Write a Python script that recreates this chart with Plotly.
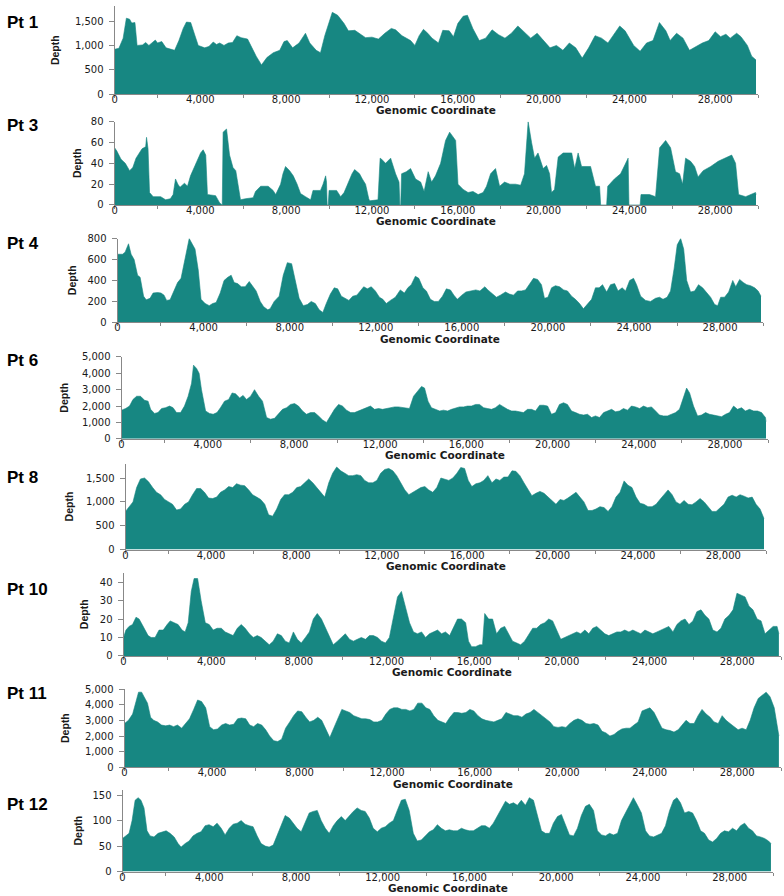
import plotly.graph_objects as go

# ---------------- data (genomic position in bp, read depth) ----------------
PANEL_NAMES = ["Pt 1", "Pt 3", "Pt 4", "Pt 6", "Pt 8", "Pt 10", "Pt 11", "Pt 12"]

X_TICKS = [0, 4000, 8000, 12000, 16000, 20000, 24000, 28000]
X_TICK_TEXT = ["0", "4,000", "8,000", "12,000", "16,000", "20,000", "24,000", "28,000"]

PT1_POS = [
    0, 200, 400, 550, 700, 800, 950, 1050, 1300, 1450,
    1600, 1800, 1900, 2000, 2200, 2400, 2600, 2800, 3000, 3200,
    3350, 3550, 3750, 3900, 4200, 4400, 4600, 4750, 4900, 5100,
    5300, 5500, 5700, 5900, 6200, 6400, 6600, 6850, 7100, 7400,
    7700, 7900, 8050, 8300, 8600, 8900, 9100, 9400, 9600, 9800,
    10000, 10150, 10400, 10700, 10900, 11200, 11500, 11700, 12000, 12300,
    12600, 12900, 13100, 13400, 13800, 14000, 14200, 14400, 14600, 14800,
    15100, 15300, 15600, 15800, 16000, 16250, 16450, 16700, 17000, 17300,
    17600, 17900, 18200, 18500, 18800, 19100, 19400, 19700, 20000, 20300,
    20600, 20900, 21200, 21500, 21800, 22100, 22400, 22700, 23000, 23300,
    23550, 23800, 24200, 24500, 24800, 25100, 25400, 25700, 25900, 26200,
    26500, 26800, 27100, 27400, 27700, 28000, 28250, 28500, 28700, 29000,
    29200, 29500, 29700, 29903]
PT1_DEPTH = [
    920, 940, 1150, 1560, 1540, 1460, 1470, 1000, 1010, 1060,
    1000, 1070, 1110, 1050, 1080, 950, 920, 900, 1100, 1350,
    1480, 1470, 1200, 1000, 950, 980, 1070, 1020, 1050, 1000,
    1050, 1060, 1200, 1160, 1130, 950, 780, 600, 750, 850,
    900, 1080, 1100, 950, 1050, 1250, 1050, 900, 850, 1200,
    1500, 1680, 1620, 1450, 1300, 1310, 1220, 1160, 1170, 1130,
    1250, 1350, 1320, 1200, 1100, 1000, 1200, 1330, 1250, 1150,
    1050, 1310, 1300, 1180, 1450, 1600, 1620, 1350, 1100, 1150,
    1320, 1220, 1150, 1250, 1400, 1280, 1150, 1250, 1100, 950,
    1000, 900, 1050, 950, 740, 950, 1200, 1150, 1050, 1250,
    1400, 1300, 1000, 880, 1050, 1100, 1470, 1300, 1100, 1250,
    1150, 900, 980, 1050, 1100, 1280, 1180, 1230, 1150, 1250,
    1180, 1000, 780, 700]

PT3_POS = [
    0, 100, 300, 500, 700, 850, 1000, 1100, 1280, 1450,
    1490, 1560, 1630, 1800, 2150, 2380, 2600, 2730, 2840, 2950,
    3050, 3260, 3400, 3540, 3780, 4010, 4130, 4250, 4330, 4710,
    4900, 4980, 5020, 5060, 5220, 5360, 5520, 5650, 5780, 5870,
    6100, 6460, 6570, 6810, 7160, 7390, 7510, 7740, 7850, 7970,
    8160, 8330, 8510, 8670, 8900, 9140, 9250, 9600, 9720, 9840,
    9880, 9910, 9960, 10000, 10350, 10540, 10700, 10890, 11070, 11190,
    11420, 11550, 11700, 11850, 11890, 12280, 12380, 12450, 12630, 12870,
    13100, 13260, 13300, 13340, 13380, 13600, 13800, 14030, 14270, 14430,
    14620, 14780, 14960, 15200, 15430, 15620, 15780, 15900, 16010, 16250,
    16480, 16710, 16950, 17180, 17340, 17530, 17760, 17950, 18180, 18430,
    18690, 18930, 19110, 19280, 19440, 19580, 19740, 19980, 20140, 20280,
    20370, 20510, 20680, 20910, 21310, 21450, 21610, 21770, 22190, 22420,
    22610, 22660, 22940, 22990, 23300, 23590, 23940, 23980, 24500, 24540,
    24940, 25220, 25410, 25690, 25920, 26150, 26340, 26480, 26620, 26850,
    27040, 27200, 27440, 27790, 28140, 28600, 28770, 28950, 29090, 29420,
    29880, 29903]
PT3_DEPTH = [
    55, 52, 44, 40, 33, 36, 45, 48, 54, 56,
    65, 54, 12, 8, 8, 5, 6, 10, 25, 20,
    17, 21, 18, 28, 40, 50, 53, 48, 10, 9,
    2, 0, 0, 70, 73, 48, 36, 33, 15, 5,
    6, 7, 13, 18, 18, 14, 10, 20, 30, 37,
    33, 28, 20, 11, 8, 5, 14, 14, 20, 28,
    22, 0, 0, 14, 14, 8, 12, 22, 30, 34,
    30, 25, 20, 6, 4, 5, 45, 44, 40, 45,
    30, 22, 0, 0, 30, 32, 35, 25, 22, 13,
    32, 22, 28, 40, 62, 70, 66, 62, 20, 15,
    12, 13, 10, 12, 18, 30, 35, 18, 22, 20,
    20, 19, 30, 80, 60, 45, 50, 35, 38, 30,
    12, 15, 46, 50, 50, 35, 50, 37, 37, 18,
    18, 0, 0, 18, 25, 30, 45, 0, 0, 10,
    10, 8, 55, 62, 55, 32, 30, 20, 45, 42,
    37, 27, 33, 37, 42, 46, 48, 40, 10, 8,
    12, 10]

PT4_POS = [
    0, 230, 350, 510, 630, 770, 930, 1050, 1210, 1330,
    1510, 1650, 1860, 2020, 2160, 2280, 2440, 2630, 2790, 2950,
    3140, 3330, 3490, 3600, 3750, 3880, 4070, 4260, 4420, 4580,
    4770, 4950, 5120, 5280, 5420, 5580, 5750, 5930, 6120, 6280,
    6440, 6630, 6790, 6980, 7090, 7280, 7510, 7700, 7890, 8090,
    8260, 8440, 8630, 8820, 9000, 9190, 9370, 9540, 9700, 9890,
    10070, 10230, 10400, 10580, 10750, 10930, 11120, 11280, 11440, 11610,
    11790, 11980, 12170, 12330, 12490, 12680, 12910, 13140, 13330, 13490,
    13650, 13840, 14000, 14190, 14350, 14540, 14720, 14910, 15100, 15280,
    15470, 15630, 15790, 16000, 16190, 16420, 16650, 16840, 17070, 17210,
    17420, 17610, 17790, 18030, 18210, 18400, 18590, 18770, 18960, 19140,
    19330, 19520, 19700, 19840, 20000, 20170, 20350, 20540, 20730, 20910,
    21100, 21280, 21470, 21650, 21840, 22030, 22210, 22380, 22540, 22730,
    22910, 23100, 23260, 23450, 23610, 23800, 23980, 24120, 24310, 24540,
    24770, 25000, 25190, 25350, 25540, 25700, 25870, 26010, 26170, 26310,
    26450, 26630, 26820, 27000, 27190, 27380, 27560, 27750, 27890, 28030,
    28210, 28400, 28590, 28730, 28910, 29080, 29240, 29420, 29610, 29770,
    29903]
PT4_DEPTH = [
    650, 650, 670, 750, 650, 600, 450, 430, 250, 215,
    230, 280, 285, 280, 260, 210, 215, 300, 380, 420,
    600, 800, 740, 700, 500, 220, 180, 160, 180, 190,
    280, 400, 430, 450, 380, 370, 340, 340, 390, 340,
    300, 200, 150, 120, 130, 200, 250, 450, 570, 560,
    400, 230, 160, 170, 200, 180, 120, 95, 180, 270,
    330, 320, 250, 230, 210, 250, 260, 300, 340, 320,
    340, 300, 240, 220, 180, 210, 240, 310, 280, 330,
    360, 440, 420, 330, 300, 220, 200, 200, 250, 320,
    310, 260, 220, 260, 290, 300, 310, 300, 340, 310,
    270, 240, 260, 290, 270, 260, 300, 300, 310, 360,
    420, 410, 360, 230, 240, 330, 350, 340, 310, 300,
    250, 220, 180, 130, 180, 220, 330, 330, 360, 290,
    360, 370, 300, 330, 300, 400, 420, 360, 250, 210,
    200, 230, 240, 220, 240, 300, 520, 740, 800, 700,
    400, 290, 300, 360, 330, 280, 240, 170, 160, 240,
    240, 290, 400, 340, 410, 380, 360, 350, 330, 300,
    250]

PT6_POS = [
    0, 190, 370, 530, 700, 880, 1070, 1230, 1350, 1530,
    1690, 1860, 2040, 2230, 2390, 2550, 2740, 2920, 3090, 3250,
    3340, 3480, 3600, 3710, 3900, 4080, 4250, 4430, 4590, 4780,
    4970, 5130, 5290, 5480, 5640, 5800, 5990, 6170, 6360, 6540,
    6730, 6910, 7100, 7290, 7470, 7660, 7840, 8030, 8210, 8400,
    8580, 8770, 8960, 9140, 9330, 9510, 9700, 9880, 10070, 10250,
    10440, 10630, 10810, 11000, 11180, 11370, 11550, 11740, 11930, 12110,
    12300, 12480, 12670, 12850, 13040, 13220, 13360, 13550, 13730, 13920,
    14060, 14220, 14380, 14570, 14760, 14940, 15130, 15310, 15500, 15680,
    15870, 16050, 16240, 16430, 16610, 16800, 16980, 17170, 17350, 17540,
    17730, 17910, 18100, 18280, 18470, 18650, 18840, 19020, 19210, 19400,
    19580, 19770, 19950, 20140, 20320, 20510, 20690, 20880, 21070, 21250,
    21440, 21620, 21810, 21990, 22180, 22370, 22550, 22740, 22920, 23110,
    23290, 23480, 23660, 23850, 24040, 24220, 24410, 24590, 24780, 24960,
    25150, 25330, 25520, 25710, 25890, 26080, 26220, 26360, 26540, 26730,
    26910, 27100, 27280, 27470, 27650, 27840, 28030, 28210, 28400, 28580,
    28770, 28950, 29140, 29330, 29510, 29700, 29880, 29903]
PT6_DEPTH = [
    1750, 1850, 2000, 2400, 2600, 2600, 2350, 2300, 1800, 1550,
    1600, 1850, 1900, 2000, 1900, 1600, 1600, 2000, 2600, 3400,
    4500, 4300, 4000, 3000, 1700, 1550, 1500, 1600, 1900, 2300,
    2400, 2800, 2750, 2500, 2650, 2400, 2600, 3000, 2600, 2300,
    1300, 1200, 1250, 1500, 1800, 1900, 2100, 2150, 2000, 1700,
    1500, 1600, 1600, 1400, 1150, 1000, 1400, 1800, 2100, 2000,
    1750, 1600, 1600, 1700, 1800, 1900, 2000, 1800, 1850, 1800,
    1850, 1900, 1950, 1950, 1900, 1850, 1850, 2600, 2900, 3200,
    3100, 2300, 1900, 1800, 1700, 1750, 1700, 1800, 1900, 1950,
    1950, 2000, 2000, 2100, 2100, 1900, 1850, 1800, 1900, 2100,
    1950, 1800, 1700, 1700, 1650, 1600, 1800, 1800, 1700, 2050,
    2050, 2000, 1500, 1600, 2100, 2200, 2100, 1700, 1600, 1500,
    1450, 1500, 1300, 1400, 1300, 1600, 1700, 1800, 1650, 1700,
    1850, 1750, 2000, 1950, 1850, 2000, 1900, 1950, 1700, 1450,
    1400, 1400, 1500, 1600, 1800, 2600, 3100, 2800, 2000, 1400,
    1450, 1600, 1500, 1450, 1400, 1350, 1500, 1600, 2000, 1800,
    1900, 1700, 1800, 1700, 1700, 1600, 1300, 1050]

PT8_POS = [
    0, 190, 350, 520, 700, 890, 1080, 1270, 1450, 1640,
    1830, 2020, 2200, 2390, 2580, 2770, 2950, 3140, 3330, 3520,
    3700, 3890, 4080, 4270, 4450, 4640, 4830, 5020, 5200, 5390,
    5580, 5770, 5950, 6140, 6330, 6520, 6700, 6890, 7080, 7270,
    7450, 7640, 7830, 8020, 8200, 8390, 8580, 8770, 8950, 9140,
    9330, 9520, 9700, 9890, 10080, 10270, 10450, 10640, 10830, 11020,
    11200, 11390, 11580, 11770, 11950, 12140, 12330, 12520, 12700, 12890,
    13080, 13270, 13450, 13640, 13830, 14020, 14200, 14390, 14580, 14770,
    14950, 15140, 15330, 15520, 15700, 15880, 16050, 16220, 16410, 16600,
    16780, 16970, 17160, 17350, 17530, 17720, 17910, 18100, 18280, 18470,
    18660, 18850, 19030, 19220, 19410, 19600, 19780, 19970, 20160, 20350,
    20530, 20720, 20910, 21100, 21280, 21470, 21660, 21850, 22030, 22220,
    22410, 22600, 22780, 22970, 23160, 23350, 23530, 23720, 23910, 24100,
    24280, 24470, 24660, 24850, 25030, 25220, 25410, 25600, 25780, 25970,
    26160, 26350, 26530, 26720, 26910, 27100, 27280, 27470, 27660, 27850,
    28030, 28220, 28410, 28600, 28780, 28970, 29160, 29350, 29530, 29720,
    29903]
PT8_DEPTH = [
    800, 900, 1000, 1300, 1480, 1500, 1420, 1300, 1200, 1150,
    1050, 1000, 950, 830, 850, 950, 1000, 1150, 1280, 1280,
    1200, 1080, 1070, 1100, 1200, 1250, 1320, 1300, 1380, 1350,
    1340, 1250, 1150, 1100, 1050, 950, 730, 700, 850, 1050,
    1150, 1150, 1200, 1300, 1320, 1400, 1480, 1400, 1300, 1200,
    1100, 1400, 1600, 1730, 1650, 1600, 1550, 1550, 1570, 1550,
    1450, 1400, 1400, 1450, 1600, 1680, 1700, 1650, 1550, 1400,
    1250, 1150, 1200, 1250, 1300, 1320, 1250, 1200, 1300, 1500,
    1480, 1450, 1500, 1600, 1720, 1700, 1450, 1320, 1380, 1400,
    1450, 1550, 1400, 1480, 1450, 1520, 1520, 1650, 1640, 1550,
    1400, 1250, 1130, 1180, 1220, 1180, 1100, 1020, 950, 1050,
    1030, 1080, 1150, 1200, 1100, 1000, 820, 820, 850, 900,
    880, 800, 900, 1100, 1200, 1440, 1350, 1300, 1100, 970,
    950, 900, 900, 950, 1050, 1150, 1250, 1150, 1000, 950,
    1030, 950, 940, 1000, 1070, 1000, 900, 800, 800, 870,
    950, 1100, 1140, 1100, 1150, 1120, 1080, 1100, 950, 850,
    650]

PT10_POS = [
    0, 110, 250, 410, 570, 710, 850, 980, 1120, 1260,
    1440, 1620, 1810, 1990, 2130, 2310, 2490, 2670, 2810, 2950,
    3090, 3220, 3380, 3540, 3730, 3910, 4090, 4270, 4460, 4640,
    4820, 5000, 5190, 5370, 5550, 5740, 5920, 6100, 6280, 6470,
    6650, 6830, 7020, 7200, 7380, 7560, 7750, 7930, 8110, 8300,
    8480, 8660, 8840, 9030, 9210, 9390, 9570, 9760, 9940, 10120,
    10310, 10490, 10670, 10850, 11040, 11220, 11400, 11590, 11770, 11950,
    12130, 12320, 12500, 12680, 12870, 13050, 13230, 13410, 13600, 13780,
    13960, 14140, 14330, 14510, 14690, 14880, 15060, 15240, 15420, 15610,
    15740, 15880, 16060, 16250, 16380, 16480, 16660, 16840, 17020, 17210,
    17390, 17570, 17750, 17940, 18120, 18300, 18490, 18670, 18850, 19030,
    19220, 19400, 19580, 19770, 19950, 20130, 20310, 20500, 20680, 20860,
    21050, 21230, 21410, 21590, 21780, 21960, 22140, 22320, 22510, 22690,
    22870, 23060, 23240, 23420, 23600, 23790, 23970, 24150, 24340, 24520,
    24700, 24880, 25070, 25250, 25430, 25620, 25800, 25980, 26160, 26350,
    26530, 26710, 26890, 27080, 27260, 27440, 27630, 27810, 27990, 28170,
    28360, 28540, 28720, 28910, 29090, 29270, 29450, 29640, 29820, 29903]
PT10_DEPTH = [
    10, 14, 16, 17, 21, 20, 17, 14, 11, 10,
    10, 14, 14, 17, 19, 18, 17, 14, 13, 18,
    35, 42, 42, 30, 18, 17, 14, 15, 15, 13,
    12, 11, 15, 17, 15, 12, 10, 11, 10, 8,
    6, 8, 12, 11, 8, 7, 13, 9, 7, 10,
    13, 20, 23, 20, 15, 10, 6, 8, 10, 12,
    9, 8, 9, 10, 9, 11, 11, 10, 8, 7,
    10, 22, 32, 35, 26, 18, 13, 12, 13, 10,
    12, 13, 14, 12, 13, 11, 16, 20, 20, 18,
    8, 5, 5, 6, 6, 23, 20, 20, 12, 15,
    16, 12, 8, 7, 6, 8, 12, 15, 15, 17,
    18, 20, 19, 14, 9, 10, 11, 12, 13, 12,
    14, 12, 15, 16, 14, 12, 11, 12, 13, 13,
    14, 13, 14, 13, 12, 14, 13, 12, 13, 14,
    15, 16, 13, 17, 19, 20, 17, 19, 24, 25,
    22, 20, 14, 13, 15, 20, 22, 25, 34, 33,
    32, 27, 25, 20, 19, 12, 14, 16, 16, 12]

PT11_POS = [
    0, 180, 370, 500, 640, 780, 920, 1050, 1190, 1330,
    1510, 1690, 1880, 2060, 2240, 2420, 2610, 2790, 2970, 3160,
    3340, 3520, 3710, 3890, 4070, 4250, 4440, 4620, 4800, 4990,
    5170, 5350, 5540, 5720, 5900, 6080, 6270, 6450, 6630, 6820,
    7000, 7180, 7360, 7550, 7730, 7910, 8100, 8280, 8460, 8650,
    8830, 9010, 9190, 9380, 9560, 9740, 9930, 10110, 10290, 10470,
    10660, 10840, 11020, 11210, 11390, 11570, 11760, 11940, 12120, 12300,
    12490, 12670, 12850, 13040, 13220, 13400, 13590, 13770, 13950, 14130,
    14320, 14500, 14680, 14870, 15050, 15230, 15410, 15600, 15780, 15960,
    16150, 16330, 16510, 16700, 16880, 17060, 17240, 17430, 17610, 17790,
    17980, 18160, 18340, 18530, 18710, 18890, 19070, 19260, 19440, 19620,
    19810, 19990, 20170, 20350, 20540, 20720, 20900, 21090, 21270, 21450,
    21640, 21820, 22000, 22180, 22370, 22550, 22730, 22920, 23100, 23280,
    23470, 23650, 23830, 24010, 24200, 24380, 24560, 24750, 24930, 25110,
    25300, 25480, 25660, 25840, 26030, 26210, 26390, 26580, 26760, 26940,
    27130, 27310, 27490, 27670, 27860, 28040, 28220, 28410, 28590, 28770,
    28960, 29140, 29320, 29500, 29690, 29820, 29903]
PT11_DEPTH = [
    2800, 3000, 3400, 4000, 4800, 4800, 4400, 4100, 3200, 3000,
    2900, 2700, 2650, 2700, 2600, 2700, 2500, 2800, 3100, 3700,
    4300, 4200, 3800, 2600, 2400, 2450, 2700, 2800, 2700, 2750,
    3100, 3150, 3100, 2700, 2600, 2800, 2700, 2400, 2000, 1700,
    1650, 1800, 2500, 2900, 3300, 3600, 3550, 3200, 2900, 3000,
    3200, 3000, 2500, 1900, 2500, 3100, 3700, 3600, 3500, 3300,
    3200, 3100, 3100, 3050, 2900, 2900, 3000, 3400, 3700, 3800,
    3800, 3700, 3700, 3600, 3700, 4100, 4100, 3800, 3700, 3300,
    3000, 2900, 2800, 3200, 3500, 3500, 3450, 3500, 3700, 3600,
    3300, 3100, 3000, 2950, 2900, 3000, 3100, 3500, 3400, 3300,
    3300, 3200, 3400, 3500, 3700, 3500, 3300, 3100, 2900, 2600,
    2550, 2600, 2550, 2800, 3000, 3100, 3000, 2800, 2750, 2800,
    2700, 2300, 2200, 2000, 2100, 2300, 2450, 2500, 2500, 2700,
    2900, 3600, 3700, 3800, 3500, 3000, 2500, 2400, 2350, 2250,
    2400, 2700, 3000, 2800, 2800, 3300, 3700, 3400, 3200, 2900,
    2800, 3300, 3000, 2800, 2600, 2400, 2500, 2400, 3000, 3800,
    4400, 4600, 4800, 4500, 3800, 2700, 2000]

PT12_POS = [
    0, 160, 300, 440, 580, 720, 850, 990, 1130, 1270,
    1450, 1640, 1820, 2010, 2190, 2380, 2560, 2700, 2890, 3070,
    3250, 3440, 3620, 3810, 3990, 4180, 4360, 4550, 4730, 4920,
    5100, 5290, 5470, 5650, 5840, 6020, 6210, 6390, 6580, 6760,
    6950, 7130, 7320, 7500, 7690, 7870, 8050, 8240, 8420, 8610,
    8790, 8980, 9160, 9350, 9530, 9720, 9900, 10090, 10270, 10460,
    10640, 10820, 11010, 11190, 11380, 11560, 11750, 11930, 12120, 12300,
    12490, 12670, 12860, 13040, 13220, 13410, 13590, 13780, 13960, 14150,
    14330, 14520, 14700, 14890, 15070, 15260, 15440, 15630, 15810, 15990,
    16180, 16360, 16550, 16730, 16920, 17100, 17290, 17470, 17660, 17840,
    18030, 18210, 18390, 18580, 18760, 18950, 19130, 19320, 19500, 19690,
    19870, 20060, 20240, 20430, 20610, 20800, 20980, 21160, 21350, 21530,
    21720, 21900, 22090, 22270, 22460, 22640, 22830, 23010, 23200, 23380,
    23560, 23750, 23930, 24120, 24300, 24490, 24670, 24860, 25040, 25230,
    25410, 25570, 25730, 25920, 26110, 26290, 26470, 26660, 26840, 27030,
    27210, 27400, 27580, 27760, 27950, 28130, 28320, 28500, 28690, 28870,
    29050, 29240, 29420, 29610, 29790, 29903]
PT12_DEPTH = [
    65, 70, 75, 100, 140, 145, 140, 125, 80, 70,
    68, 75, 78, 80, 75, 68, 55, 48, 55, 60,
    70, 75, 78, 90, 92, 88, 95, 85, 72, 85,
    93, 95, 100, 93, 90, 88, 70, 55, 50, 48,
    52, 70, 90, 110, 105, 95, 85, 78, 95, 115,
    118, 120, 100, 85, 75, 90, 100, 108, 100, 110,
    118, 125, 120, 118, 105, 85, 78, 85, 88, 95,
    100, 120, 140, 142, 120, 75, 60, 62, 70, 78,
    82, 92, 85, 80, 82, 80, 80, 85, 82, 80,
    80, 85, 90, 90, 85, 95, 110, 125, 138, 132,
    135, 130, 140, 130, 145, 140, 110, 80, 75, 75,
    95, 108, 112, 90, 72, 70, 85, 110, 128, 132,
    120, 80, 72, 70, 75, 72, 75, 100, 115, 130,
    145, 130, 115, 80, 70, 68, 72, 75, 90, 120,
    140, 145, 135, 115, 118, 115, 100, 80, 75, 62,
    58, 65, 75, 80, 78, 85, 80, 90, 95, 85,
    80, 70, 68, 65, 60, 55]

SERIES = [
    (PT1_POS, PT1_DEPTH), (PT3_POS, PT3_DEPTH), (PT4_POS, PT4_DEPTH),
    (PT6_POS, PT6_DEPTH), (PT8_POS, PT8_DEPTH), (PT10_POS, PT10_DEPTH),
    (PT11_POS, PT11_DEPTH), (PT12_POS, PT12_DEPTH),
]
Y_MAX = [1800, 80, 800, 5000, 1800, 45, 5000, 160]
Y_STEP = [500, 20, 200, 1000, 500, 10, 1000, 50]

# ---------------- layout geometry (pixels) ----------------
W, H = 784, 896
# left, right, top, bottom of each plot area; y of the "Pt" label; x of "Depth"
GEOM = [
    (112, 758, 0.5, 89.3, 17, 52),
    (112, 758, 117.3, 201.7, 121, 75),
    (115, 763, 235.7, 320.7, 241, 70),
    (119, 768, 355.7, 438.7, 359, 61),
    (123, 766, 463.9, 551.0, 477.5, 66),
    (121, 781, 574.7, 658.7, 591, 82),
    (122, 781, 692.3, 771.7, 697, 62),
    (120, 773, 794.7, 877.3, 809, 75),
]

FILL = "#178782"
GREY = "#888888"
TXT = "#1a1a1a"
TICK_FONT = "DejaVu Sans, Verdana, sans-serif"
LABEL_FONT = "Liberation Sans, Arial, sans-serif"

fig = go.Figure()
annotations = []
layout_axes = {}

for i, ((pos, dep), name, g) in enumerate(zip(SERIES, PANEL_NAMES, GEOM)):
    left, right, top, bottom, lab_y, depth_x = g
    n = "" if i == 0 else str(i + 1)
    fig.add_trace(go.Scatter(
        x=pos, y=dep, xaxis="x" + n, yaxis="y" + n,
        mode="lines", fill="tozeroy", fillcolor=FILL,
        line=dict(color=FILL, width=0.6), hoverinfo="skip", showlegend=False,
    ))
    layout_axes["xaxis" + n] = dict(
        domain=[left / W, right / W], anchor="y" + n, range=[0, 30000],
        tickmode="array", tickvals=X_TICKS, ticktext=X_TICK_TEXT,
        ticks="outside", ticklen=3, tickcolor=GREY, tickwidth=1,
        ticklabelstandoff=-7,
        minor=dict(dtick=2000, tick0=0, ticks="outside", ticklen=3,
                   tickcolor=GREY, tickwidth=1, showgrid=False),
        showline=True, linecolor=GREY, linewidth=1,
        showgrid=False, zeroline=False, fixedrange=True,
        tickfont=dict(family=TICK_FONT, size=10, color=TXT),
    )
    layout_axes["yaxis" + n] = dict(
        domain=[1 - bottom / H, 1 - top / H], anchor="x" + n,
        range=[0, Y_MAX[i]], tickmode="linear", tick0=0, dtick=Y_STEP[i],
        tickformat=",d", ticks="outside", ticklen=5, tickcolor=GREY,
        ticklabelstandoff=3,
        showline=True, linecolor=GREY, linewidth=1,
        showgrid=False, zeroline=False, fixedrange=True,
        tickfont=dict(family=TICK_FONT, size=10, color=TXT),
    )
    # panel label
    annotations.append(dict(
        text="<b>" + name + "</b>", xref="paper", yref="paper",
        x=2 / W, y=1 - lab_y / H, xanchor="left", yanchor="middle",
        showarrow=False, font=dict(family=LABEL_FONT, size=17, color="#000"),
    ))
    # y title
    annotations.append(dict(
        text="<b>Depth</b>", xref="paper", yref="paper", textangle=-90,
        x=depth_x / W, y=1 - (top + bottom) / 2 / H,
        xanchor="center", yanchor="middle", showarrow=False,
        font=dict(family=LABEL_FONT, size=10.5, color=TXT),
    ))
    # x title
    annotations.append(dict(
        text="<b>Genomic Coordinate</b>", xref="paper", yref="paper",
        x=(left + right) / 2 / W, y=1 - (bottom + 16.5) / H,
        xanchor="center", yanchor="middle", showarrow=False,
        font=dict(family=TICK_FONT, size=10.5, color=TXT),
    ))

fig.update_layout(
    width=W, height=H, margin=dict(l=0, r=0, t=0, b=0),
    paper_bgcolor="white", plot_bgcolor="white",
    showlegend=False, annotations=annotations, **layout_axes,
)

fig.write_html(
    "out.html",
    config={"displayModeBar": False, "staticPlot": True},
    post_script="document.body.style.margin='0px';",
)
